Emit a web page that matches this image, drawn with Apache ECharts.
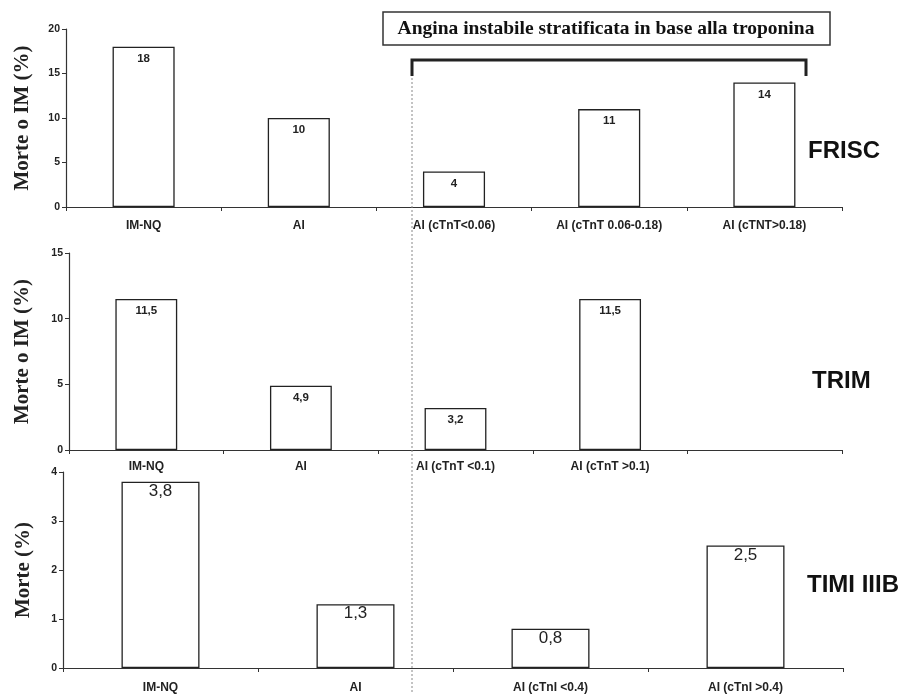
<!DOCTYPE html>
<html><head><meta charset="utf-8">
<script src="https://cdn.jsdelivr.net/npm/echarts@6/dist/echarts.min.js"></script>
<style>html,body{margin:0;padding:0;background:#fff}#c{width:914px;height:696px}</style>
</head><body><div id="c"></div>
<script>
// ---- data ----
const friscCategories = ['IM-NQ', 'AI', 'AI (cTnT<0.06)', 'AI (cTnT 0.06-0.18)', 'AI (cTNT>0.18)'];
const friscValues = [18, 10, 4, 11, 14];
const trimCategories = ['IM-NQ', 'AI', 'AI (cTnT <0.1)', 'AI (cTnT >0.1)', ''];
const trimValues = [11.5, 4.9, 3.2, 11.5, null];
const timiCategories = ['IM-NQ', 'AI', 'AI (cTnI <0.4)', 'AI (cTnI >0.4)'];
const timiValues = [3.8, 1.3, 0.8, 2.5];
const frisc_yTicks = {min: 0, max: 20, interval: 5};
const trim_yTicks = {min: 0, max: 15, interval: 5};
const timi_yTicks = {min: 0, max: 4, interval: 1};
const studyNames = ['FRISC', 'TRIM', 'TIMI IIIB'];
const yTitles = ['Morte o IM (%)', 'Morte o IM (%)', 'Morte (%)'];
const headerText = 'Angina instabile stratificata in base alla troponina';

const SANS = '"Liberation Sans", Arial, sans-serif';
const SERIF = '"Liberation Serif", "Times New Roman", serif';
const fmt = v => String(v.value).replace('.', ',');

const grids = [
  {left: 66, top: 29, width: 776, height: 178},
  {left: 69, top: 253, width: 773, height: 197},
  {left: 63, top: 472, width: 780, height: 196}
];
const cats = [friscCategories, trimCategories, timiCategories];
const vals = [friscValues, trimValues, timiValues];
const yt = [frisc_yTicks, trim_yTicks, timi_yTicks];
const labMargin = [13, 11, 14];
const nameGaps = [33, 36, 29];

const chart = echarts.init(document.getElementById('c'), null, {renderer: 'canvas'});
const option = {
  backgroundColor: '#fff',
  animation: false,
  grid: grids,
  xAxis: cats.map((c, i) => ({
    type: 'category', gridIndex: i, data: c,
    axisLine: {lineStyle: {color: '#333', width: 1.2}},
    axisTick: {show: true, length: 4, lineStyle: {color: '#333'}},
    axisLabel: {fontFamily: SANS, fontWeight: 'bold', fontSize: 12, color: '#222', margin: labMargin[i], interval: 0}
  })),
  yAxis: yt.map((t, i) => ({
    type: 'value', gridIndex: i, min: t.min, max: t.max, interval: t.interval,
    splitLine: {show: false},
    axisLine: {show: true, lineStyle: {color: '#333', width: 1.2}},
    axisTick: {show: true, length: 4, lineStyle: {color: '#333'}},
    axisLabel: {fontFamily: SANS, fontWeight: 'bold', fontSize: 10.5, color: '#222', margin: 6},
    name: yTitles[i], nameLocation: 'middle', nameGap: nameGaps[i], nameRotate: 90,
    nameTextStyle: {fontFamily: SERIF, fontWeight: 'bold', fontSize: 21, color: '#222'}
  })),
  series: vals.map((v, i) => ({
    type: 'bar', xAxisIndex: i, yAxisIndex: i, data: v, barWidth: '40%',
    itemStyle: {color: '#fff', borderColor: '#222', borderWidth: 1.3},
    label: {
      show: true, position: 'insideTop', distance: i === 2 ? 1 : 6, formatter: fmt,
      fontFamily: SANS, fontWeight: i === 2 ? 'normal' : 'bold', fontSize: i === 2 ? 17 : 11.5, color: '#222'
    }
  })),
  graphic: [
    {type: 'line', shape: {x1: 412, y1: 62, x2: 412, y2: 692}, style: {stroke: '#888', lineWidth: 1, lineDash: [2, 2]}, z: 10},
    {type: 'polyline', shape: {points: [[412, 76], [412, 60], [806, 60], [806, 76]]}, style: {stroke: '#222', lineWidth: 3, fill: null}, z: 11},
    {type: 'rect', shape: {x: 383, y: 12, width: 447, height: 33}, style: {fill: '#fff', stroke: '#333', lineWidth: 1.5}, z: 11},
    {type: 'text', x: 606, y: 29, style: {text: headerText, font: 'bold 19.5px ' + SERIF, fill: '#111', textAlign: 'center', textVerticalAlign: 'middle'}, z: 12},
    {type: 'text', x: 808, y: 151, style: {text: studyNames[0], font: 'bold 24px ' + SANS, fill: '#111', textAlign: 'left', textVerticalAlign: 'middle'}, z: 12},
    {type: 'text', x: 812, y: 381, style: {text: studyNames[1], font: 'bold 24px ' + SANS, fill: '#111', textAlign: 'left', textVerticalAlign: 'middle'}, z: 12},
    {type: 'text', x: 807, y: 585, style: {text: studyNames[2], font: 'bold 24px ' + SANS, fill: '#111', textAlign: 'left', textVerticalAlign: 'middle'}, z: 12}
  ]
};
chart.setOption(option);
</script></body></html>
